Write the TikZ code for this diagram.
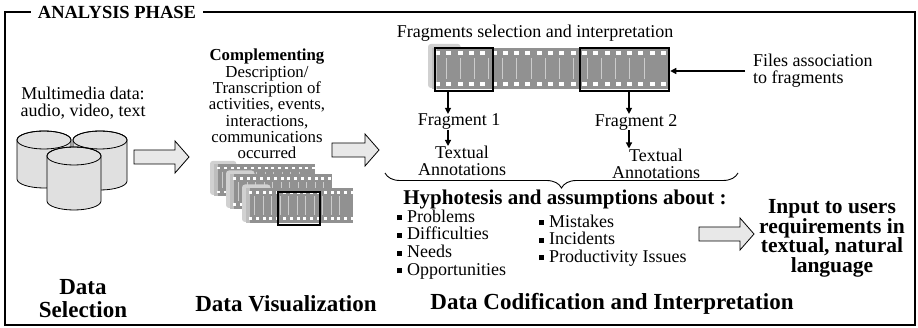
\documentclass[tikz,border=0pt]{standalone}
\usepackage{fontspec}
\setmainfont{Liberation Serif}
\usepackage{tikz}
\usetikzlibrary{arrows.meta}
\usetikzlibrary{positioning}
\usetikzlibrary{decorations.pathreplacing}

\definecolor{drumgray}{gray}{0.88}
\definecolor{filmgray}{gray}{0.57}
\definecolor{rollgray}{gray}{0.82}
\definecolor{linegray}{gray}{0.80}
\definecolor{arrowgray}{gray}{0.91}

\tikzstyle{txt}=[black, inner sep=0pt, align=center, font=\fontsize{18}{17}\selectfont]
\tikzstyle{boldtxt}=[txt, font=\fontsize{21}{19}\selectfont\bfseries]
\tikzstyle{phasetxt}=[txt, font=\fontsize{23}{23}\selectfont\bfseries]
\tikzstyle{titletxt}=[black, inner xsep=7pt, inner ysep=0pt, font=\fontsize{18.5}{19}\selectfont\bfseries]
\tikzstyle{fragbox}=[draw=black, line width=2.5pt, inner sep=0pt]
\tikzstyle{thinarrow}=[-{Triangle[length=6pt, width=6pt]}, line width=1.3pt, color=black]
\tikzstyle{bracestyle}=[decorate, decoration={brace, mirror, amplitude=15pt}, line width=0.9pt]

\newcommand{\sqbullet}{\rule[0.25ex]{5pt}{5pt}\hspace{5pt}}

% centre x, top y, bottom y
\newcommand{\datadrum}[3]{%
  \filldraw[fill=drumgray, draw=black, line width=0.8pt] (#1-27,#2) -- (#1-27,#3) arc[start angle=180, end angle=0, x radius=27, y radius=9] -- (#1+27,#2) arc[start angle=0, end angle=-180, x radius=27, y radius=9] -- cycle;
  \draw[line width=0.8pt] (#1,#2) ellipse[x radius=27, y radius=9];}

% tail x, centre y, length
\newcommand{\blockarrow}[3]{%
  \filldraw[fill=arrowgray, draw=black, line width=0.8pt] (#1,#2-7) -- (#1+#3-14,#2-7) -- (#1+#3-14,#2-16) -- (#1+#3,#2) -- (#1+#3-14,#2+16) -- (#1+#3-14,#2+7) -- (#1,#2+7) -- cycle;}

% x0, y0, x1, y1, hole step
\newcommand{\filmstrip}[5]{%
  \pgfmathsetmacro\filmH{#4-#2}
  \fill[rollgray, rounded corners=3pt] (#1-4,#2-0.1*\filmH) rectangle (#1+0.7*\filmH,#4-1);
  \fill[filmgray] (#1,#2) rectangle (#3,#4);
  \fill[rollgray!70!filmgray] (#1,#2) rectangle (#1+0.12*\filmH,#4);
  \pgfmathtruncatemacro\filmL{(#3-#1)/(1.25*#5)-1}
  \foreach \k in {1,...,\filmL}{
    \pgfmathsetmacro\lx{#1+\k*1.25*#5}
    \draw[linegray, line width=0.6pt] (\lx,#2+0.24*\filmH) -- (\lx,#4-0.24*\filmH);
  }
  \pgfmathtruncatemacro\filmN{(#3-#1-4)/#5}
  \foreach \k in {0,...,\filmN}{
    \pgfmathsetmacro\hx{#1+3+\k*#5}
    \fill[white] (\hx,#2+0.08*\filmH) rectangle ++(0.45*#5,0.09*\filmH);
    \fill[white] (\hx,#4-0.08*\filmH) rectangle ++(0.45*#5,-0.09*\filmH);
  }}

\begin{document}
\begin{tikzpicture}[x=1pt, y=-1pt]
\useasboundingbox (0,0) rectangle (918,328);

% frame with title
\node[titletxt] (title) at (117,12) {ANALYSIS PHASE};
\draw[line width=2.5pt] (title.west) -| (5,325) -| (915,12) -- (title.east);

% data selection
\node[txt] (media) at (83,103) {Multimedia data:\\audio, video, text};
\datadrum{44}{140}{179}
\datadrum{100}{140}{181}
\datadrum{74}{156}{201}
\blockarrow{134}{157}{55}

% data visualization
\node[txt, anchor=north, font=\fontsize{16.8}{16.3}\selectfont] (visdesc) at (267,49) {\textbf{Complementing}\\Description/\\Transcription of\\activities, events,\\interactions,\\communications\\occurred};
\filmstrip{214}{164}{315}{196}{6.8}
\filmstrip{230}{174}{332}{209}{6.8}
\filmstrip{246}{188}{353}{223}{6.8}
\node[fragbox, minimum width=42, minimum height=33] (clip) at (299,208.5) {};
\blockarrow{332}{150}{47}

% fragments
\node[txt] (fragsel) at (535,33) {Fragments selection and interpretation};
\filmstrip{432}{48}{668}{89}{11.3}
\node[fragbox, minimum width=58, minimum height=43] (frag1) at (464,69.5) {};
\node[fragbox, minimum width=89, minimum height=43] (frag2) at (624.5,69.5) {};
\node[txt, align=left, anchor=west] (files) at (753,71) {Files association\\to fragments};
\node[txt] (fragA) at (459,122) {Fragment 1};
\node[txt] (fragB) at (636,122) {Fragment 2};
\node[txt] (annA) at (462,161) {Textual\\Annotations};
\node[txt] (annB) at (656,163.5) {Textual\\Annotations};

\draw[thinarrow] ([xshift=-8pt]files.west) -- (files.west -| frag2.east);
\draw[thinarrow] ([xshift=-16pt]frag1.south) -- ([xshift=-16pt]frag1.south |- fragA.north);
\draw[thinarrow] ([xshift=-11pt]fragA.south) -- ([xshift=-11pt]fragA.south |- annA.north);
\draw[thinarrow] ([xshift=4.5pt]frag2.south) -- ([xshift=4.5pt]frag2.south |- fragB.north);
\draw[thinarrow] ([xshift=-7pt]fragB.south) -- ([xshift=-7pt]fragB.south |- annB.north);

% hypotheses
\coordinate (braceL) at (385,173);
\coordinate (braceR) at (738,173);
\draw[bracestyle] (braceL) -- (braceR);
\node[boldtxt] (hyp) at (565,199) {Hyphotesis and assumptions about :};
\node[txt, align=left, anchor=west, font=\fontsize{18}{17.7}\selectfont] (listA) at (397,244.5) {\sqbullet Problems\\\sqbullet Difficulties\\\sqbullet Needs\\\sqbullet Opportunities};
\node[txt, align=left, anchor=west, font=\fontsize{18}{17.5}\selectfont] (listB) at (539,240.5) {\sqbullet Mistakes\\\sqbullet Incidents\\\sqbullet Productivity Issues};
\blockarrow{699}{234}{55}
\node[boldtxt, font=\fontsize{21.5}{19.6}\selectfont\bfseries] (input) at (832,238.5) {Input to users\\requirements in\\textual, natural\\language};

% phase names
\node[phasetxt] (selphase) at (83,298.5) {Data\\Selection};
\node[phasetxt] (visphase) at (286,304) {Data Visualization};
\node[phasetxt] (codphase) at (612,304) {Data Codification and Interpretation};
\end{tikzpicture}
\end{document}
